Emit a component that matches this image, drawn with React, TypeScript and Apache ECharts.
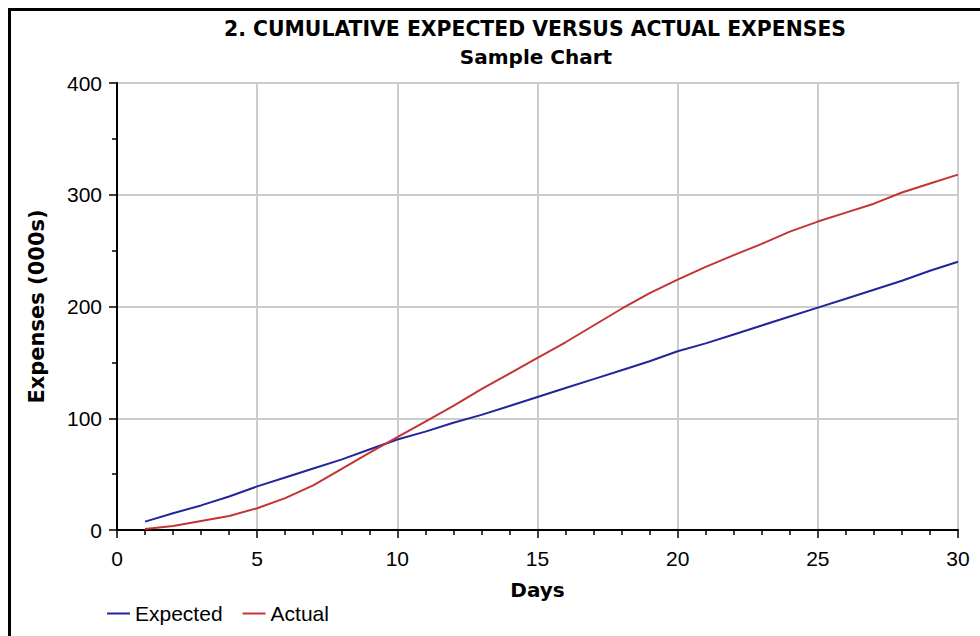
import React, { useEffect, useRef } from "react";
import * as echarts from "echarts";

const days = [1, 2, 3, 4, 5, 6, 7, 8, 9, 10, 11, 12, 13, 14, 15, 16, 17, 18, 19, 20, 21, 22, 23, 24, 25, 26, 27, 28, 29, 30];
const expected = [7.5, 15, 22, 30, 39, 47, 55, 63, 72, 81, 88, 96, 103, 111, 119, 127, 135, 143, 151, 160, 167, 175, 183, 191, 199, 207, 215, 223, 232, 240];
const actual = [1, 3.5, 8, 12.5, 19.5, 28.5, 40, 54.5, 69, 83, 97, 111, 126, 140, 154, 168, 183, 198, 212, 224, 235.5, 246, 256, 267, 276, 284, 292, 302, 310, 318];
const seriesNames = ["Expected", "Actual"];
const titleText = "2. CUMULATIVE EXPECTED VERSUS ACTUAL EXPENSES";
const subtitleText = "Sample Chart";
const xAxisName = "Days";
const yAxisName = "Expenses (000s)";

export default function App() {
  const ref = useRef<HTMLDivElement>(null);
  useEffect(() => {
    if (!ref.current) return;
    const chart = echarts.init(ref.current, null, { renderer: "svg" });
    const pairs = (vals: number[]) => days.map((d, i) => [d, vals[i]]);
    chart.setOption({
      animation: false,
      backgroundColor: "#ffffff",
      graphic: [
        { type: "rect", shape: { x: 8, y: 8, width: 972, height: 3 }, style: { fill: "#000" } },
        { type: "rect", shape: { x: 8, y: 8, width: 3, height: 628 }, style: { fill: "#000" } },
        {
          type: "text",
          x: 535,
          y: 29,
          style: { text: titleText, fontFamily: "DejaVu Sans", fontWeight: "bold", fontSize: 20.4, fill: "#000", align: "center", verticalAlign: "middle" },
        },
        {
          type: "text",
          x: 536,
          y: 57,
          style: { text: subtitleText, fontFamily: "DejaVu Sans", fontWeight: "bold", fontSize: 20, fill: "#000", align: "center", verticalAlign: "middle" },
        },
      ],
      grid: {
        left: 117,
        right: 22,
        top: 83,
        bottom: 106,
        show: true,
        borderColor: "#333",
        borderWidth: 1.5,
        backgroundColor: "#fff",
      },
      legend: {
        left: 102,
        top: 598,
        icon: "rect",
        itemWidth: 23,
        itemHeight: 2,
        itemGap: 20,
        textStyle: { fontFamily: "Liberation Sans", fontSize: 21, color: "#000" },
        data: seriesNames,
      },
      xAxis: {
        type: "value",
        min: 0,
        max: 30,
        interval: 5,
        name: xAxisName,
        nameLocation: "middle",
        nameGap: 50,
        nameTextStyle: { fontFamily: "DejaVu Sans", fontWeight: "bold", fontSize: 20, color: "#000" },
        axisLine: { show: true, onZero: false, lineStyle: { color: "#000", width: 2 } },
        axisTick: { show: true, length: 8, lineStyle: { color: "#000", width: 1.5 } },
        minorTick: { show: true, splitNumber: 5, length: 5, lineStyle: { color: "#000", width: 1.5 } },
        axisLabel: { fontFamily: "Liberation Sans", fontSize: 21, color: "#000", margin: 18 },
        splitLine: { show: true, lineStyle: { color: "#cccccc", width: 2 } },
      },
      yAxis: {
        type: "value",
        min: 0,
        max: 400,
        interval: 100,
        name: yAxisName,
        nameLocation: "middle",
        nameRotate: 90,
        nameGap: 70,
        nameTextStyle: { fontFamily: "DejaVu Sans", fontWeight: "bold", fontSize: 21, color: "#000" },
        axisLine: { show: true, onZero: false, lineStyle: { color: "#000", width: 2 } },
        axisTick: { show: true, length: 8, lineStyle: { color: "#000", width: 1.5 } },
        minorTick: { show: true, splitNumber: 2, length: 5, lineStyle: { color: "#000", width: 1.5 } },
        axisLabel: { fontFamily: "Liberation Sans", fontSize: 21, color: "#000", margin: 15 },
        splitLine: { show: true, lineStyle: { color: "#cccccc", width: 2 } },
      },
      series: [
        {
          name: seriesNames[0],
          type: "line",
          data: pairs(expected),
          showSymbol: false,
          symbol: "none",
          lineStyle: { color: "#24249c", width: 2 },
          itemStyle: { color: "#24249c" },
        },
        {
          name: seriesNames[1],
          type: "line",
          data: pairs(actual),
          showSymbol: false,
          symbol: "none",
          lineStyle: { color: "#c43434", width: 2 },
          itemStyle: { color: "#c43434" },
        },
      ],
    });
    return () => chart.dispose();
  }, []);
  return <div ref={ref} style={{ position: "fixed", left: 0, top: 0, width: 980, height: 636 }} />;
}
